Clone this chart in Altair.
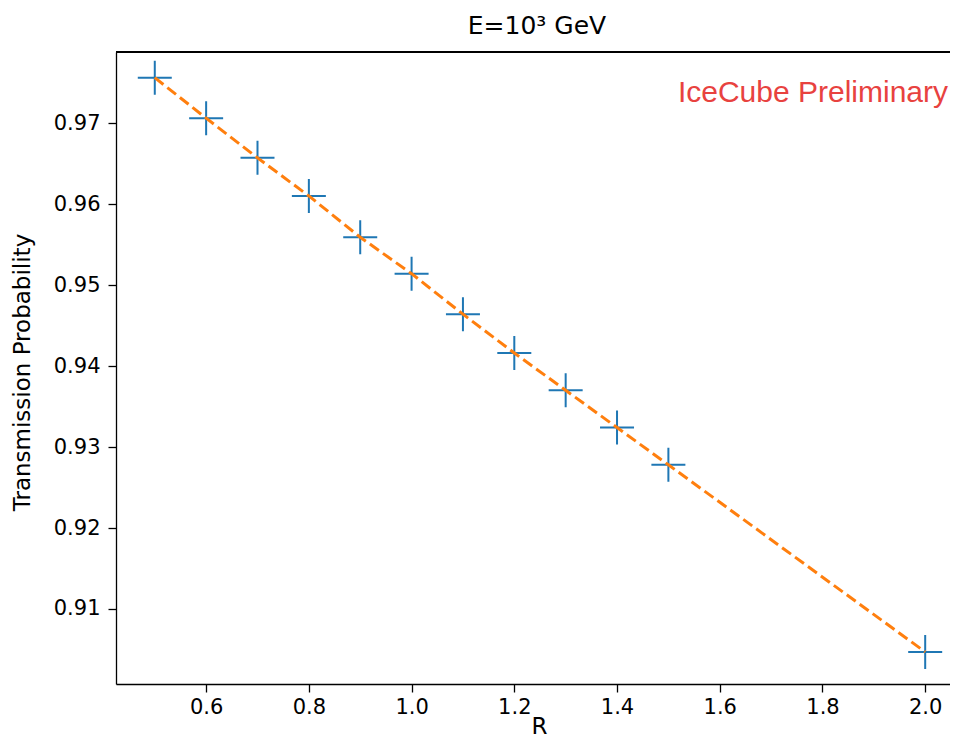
import altair as alt
import pandas as pd

# Data
R = [0.5, 0.6, 0.7, 0.8, 0.9, 1.0, 1.1, 1.2, 1.3, 1.4, 1.5, 2.0]
P = [0.9756, 0.9706, 0.9657, 0.9610, 0.9559, 0.9514, 0.9464, 0.9416, 0.9370, 0.9324, 0.9278, 0.9047]

x_ticks = [0.6, 0.8, 1.0, 1.2, 1.4, 1.6, 1.8, 2.0]
y_ticks = [0.91, 0.92, 0.93, 0.94, 0.95, 0.96, 0.97]
x_domain = [0.4245, 2.0483]
y_domain = [0.90074, 0.97877]

title_text = "E=10³ GeV"
watermark = "IceCube Preliminary"

df = pd.DataFrame({"R": R, "P": P})

W, H = 834, 632
FONT = "DejaVu Sans"

x_enc = alt.X(
    "R:Q",
    scale=alt.Scale(domain=x_domain, nice=False, zero=False),
    axis=alt.Axis(
        values=x_ticks, format=".1f", title="R", grid=False,
        labelFont=FONT, labelFontSize=21, labelColor="#000", labelPadding=4,
        tickColor="#000", tickSize=8, tickWidth=1.3,
        domainColor="#000", domainWidth=1.3,
        titleFont=FONT, titleFontSize=23, titleFontWeight="normal", titleColor="#000",
        titleX=423, titleY=49, titleBaseline="alphabetic",
    ),
)
y_enc = alt.Y(
    "P:Q",
    scale=alt.Scale(domain=y_domain, nice=False, zero=False),
    axis=alt.Axis(
        values=y_ticks, format=".2f", title="Transmission Probability", grid=False,
        labelFont=FONT, labelFontSize=21, labelColor="#000", labelPadding=8,
        tickColor="#000", tickSize=8, tickWidth=1.3,
        domainColor="#000", domainWidth=1.3,
        titleFont=FONT, titleFontSize=23, titleFontWeight="normal", titleColor="#000",
        titleX=-94, titleY=H / 2 + 4, titleBaseline="middle",
    ),
)

points = alt.Chart(df).mark_point(
    shape="M-1,0L1,0M0,-1L0,1", size=1156, filled=False,
    color="#1f77b4", strokeWidth=2, opacity=1,
).encode(x=x_enc, y=y_enc)

line = alt.Chart(df).mark_line(
    color="#ff7f0e", strokeWidth=3, strokeDash=[11, 5],
).encode(x="R:Q", y="P:Q")

top_border = alt.Chart(df).mark_rule(color="#000", strokeWidth=1.3).encode(
    x=alt.value(0), x2=alt.value(W), y=alt.value(0)
)

wm = alt.Chart(pd.DataFrame({"t": [watermark]})).mark_text(
    align="right", baseline="alphabetic", font="Liberation Sans", fontSize=30,
    color="#e8423f",
).encode(text="t:N", x=alt.value(832), y=alt.value(50))

chart = (
    alt.layer(points, line, top_border, wm)
    .properties(
        width=W, height=H,
        title=alt.TitleParams(
            title_text, font=FONT, fontSize=25, fontWeight="normal", color="#000",
            anchor="middle", offset=12, dx=4,
        ),
        padding={"left": 108, "top": 44, "right": 0, "bottom": 55},
        autosize=alt.AutoSizeParams(type="none"),
    )
    .configure_view(stroke=None)
    .configure(background="white")
)

chart.save("out.html", embed_options={"renderer": "svg", "actions": False})
